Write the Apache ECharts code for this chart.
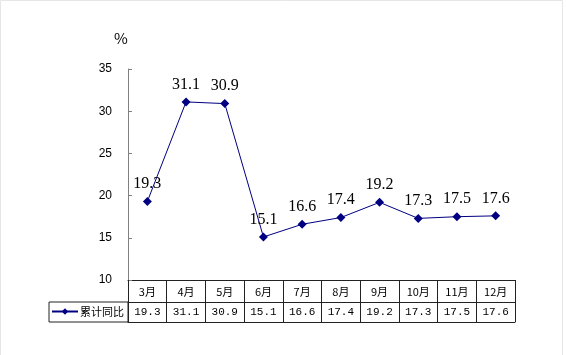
<!DOCTYPE html>
<html><head><meta charset="utf-8">
<script src="https://cdn.jsdelivr.net/npm/echarts@6/dist/echarts.min.js"></script>
<style>html,body{margin:0;padding:0;background:#fff}#c{width:566px;height:355px}</style>
</head><body><div id="c"></div>
<script>
var categories = ['3月','4月','5月','6月','7月','8月','9月','10月','11月','12月'];
var values = [19.3, 31.1, 30.9, 15.1, 16.6, 17.4, 19.2, 17.3, 17.5, 17.6];
var seriesName = '累计同比';
var yTicks = {min: 10, max: 35, interval: 5};

var chart = echarts.init(document.getElementById('c'), null, {renderer: 'canvas'});
var valueLabels = values.map(function (v) { return v.toFixed(1); });
chart.setOption({
  animation: false,
  backgroundColor: '#fff',
  title: {text: '%', left: 109, top: 26, textStyle: {fontSize: 15, fontWeight: 'normal', color: '#000', fontFamily: 'Noto Sans CJK SC'}},
  grid: {left: 128, right: 51, top: 69, bottom: 75},
  legend: {
    data: [seriesName], left: 51, top: 306, padding: 0, itemWidth: 26, itemHeight: 8, itemGap: 4,
    textStyle: {fontSize: 11, color: '#000', fontFamily: 'Noto Sans CJK SC', padding: [0, 0, 0, -3]}
  },
  xAxis: [
    {type: 'category', data: categories, boundaryGap: true, position: 'bottom',
     axisLine: {lineStyle: {color: '#222', width: 1}},
     axisTick: {show: true, length: 42, lineStyle: {color: '#222'}, alignWithLabel: false},
     axisLabel: {fontSize: 11, color: '#000', margin: 6, fontFamily: 'Noto Sans CJK SC'}},
    {type: 'category', data: valueLabels, boundaryGap: true, position: 'bottom', offset: 22,
     axisLine: {lineStyle: {color: '#222'}}, axisTick: {show: false},
     axisLabel: {fontSize: 11, color: '#000', margin: 5, fontFamily: 'Liberation Mono'}},
    {type: 'category', data: categories, boundaryGap: true, position: 'bottom', offset: 42,
     axisLine: {lineStyle: {color: '#222'}}, axisTick: {show: false}, axisLabel: {show: false}}
  ],
  yAxis: {
    type: 'value', min: yTicks.min, max: yTicks.max, interval: yTicks.interval,
    axisLine: {show: true, lineStyle: {color: '#808080'}},
    axisTick: {show: true, inside: true, length: 4, lineStyle: {color: '#808080'}},
    splitLine: {show: false},
    axisLabel: {fontSize: 12, color: '#000', margin: 16, fontFamily: 'Liberation Sans'}
  },
  graphic: [
    {type: 'rect', shape: {x: 0.5, y: 0.5, width: 562, height: 360}, style: {fill: 'none', stroke: '#e6e6e6', lineWidth: 1}, silent: true},
    {type: 'rect', shape: {x: 49, y: 302, width: 79, height: 20}, style: {fill: 'none', stroke: '#222', lineWidth: 1}}
  ],
  series: [{
    name: seriesName, type: 'line', data: values, xAxisIndex: 0,
    symbol: 'diamond', symbolSize: 9,
    lineStyle: {color: '#000080', width: 1},
    itemStyle: {color: '#000080'},
    label: {show: true, position: 'top', distance: 5, fontSize: 16, color: '#000', fontFamily: 'Liberation Serif',
      formatter: function (p) { return p.value.toFixed(1); }}
  }]
});
</script></body></html>
